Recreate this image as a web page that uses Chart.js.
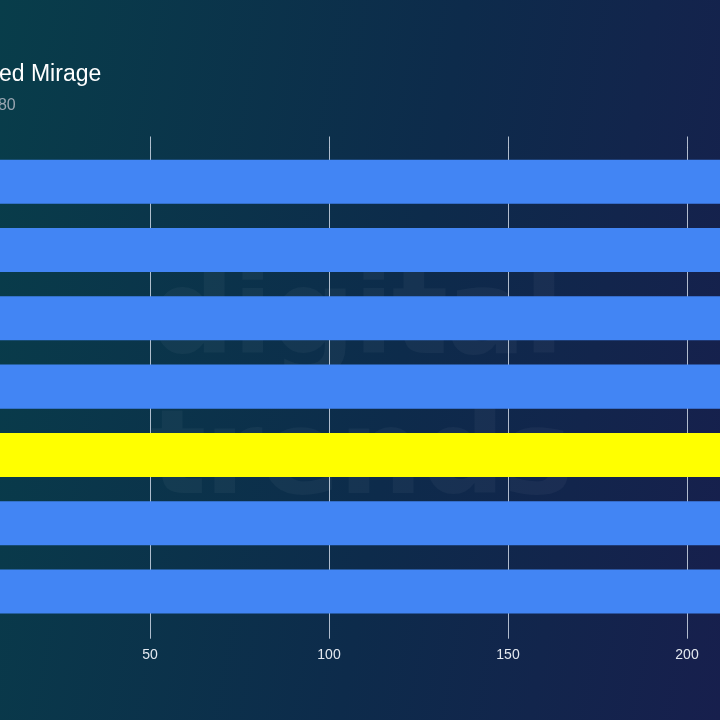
<!DOCTYPE html>
<html>
<head>
<meta charset="utf-8">
<script src="https://cdn.jsdelivr.net/npm/chart.js@4"></script>
<style>
	html, body { margin: 0; padding: 0; width: 720px; height: 720px; overflow: hidden; }
	body { position: relative; background: linear-gradient(100deg, #083d4a 0%, #0d2b4b 55%, #171f4d 100%); }
	#wm { position: absolute; left: 150px; top: 242px; font: bold 118px/140px "DejaVu Sans", sans-serif; color: rgba(255,255,255,0.04); letter-spacing: -2px; }
	#chart { position: absolute; left: -300px; top: 0; }
</style>
</head>
<body>
<div id="wm">digital<br>trends</div>
<canvas id="chart" width="1380" height="720"></canvas>
<script>
// 카드 이름 (화면 왼쪽 밖)
const labels = ['RTX 4090', 'RX 7900 XTX', 'RTX 4080', 'RX 7900 XT', 'RTX 4070 Ti', 'RX 7800 XT', 'RTX 4070'];
// 평균 FPS - 막대가 오른쪽 밖으로 나가서 추정값
const fps = [282, 266, 251, 240, 231, 222, 215];
const barColors = ['#4285f4', '#4285f4', '#4285f4', '#4285f4', '#ffff00', '#4285f4', '#4285f4'];
const xTicks = [0, 50, 100, 150, 200, 250, 300];

const gridColor = 'rgba(205,214,228,0.85)';

const ctx = document.getElementById('chart');
window.chart = new Chart(ctx, {
	type: 'bar',
	data: {
		labels: labels,
		datasets: [{
			data: fps,
			backgroundColor: barColors,
			borderWidth: 0,
			categoryPercentage: 1,
			barPercentage: 0.645
		}]
	},
	options: {
		indexAxis: 'y',
		responsive: false,
		animation: false,
		layout: { padding: { left: 147.6, right: 35, top: 0, bottom: 48.5 } },
		plugins: {
			legend: { display: false },
			tooltip: { enabled: false },
			title: {
				display: true,
				text: "Assassin's Creed Mirage",
				align: 'start',
				color: '#ffffff',
				font: { family: 'Liberation Sans', size: 23, weight: 'normal' },
				padding: { top: 60.8, bottom: 0 }
			},
			subtitle: {
				display: true,
				text: 'Ultra High, 1920 x 1080',
				align: 'start',
				color: '#9aa6b2',
				font: { family: 'Liberation Sans', size: 16 },
				padding: { top: 7.6, bottom: 21.3 }
			}
		},
		scales: {
			x: {
				type: 'linear',
				position: 'bottom',
				min: xTicks[0],
				max: xTicks[xTicks.length - 1],
				ticks: { stepSize: 50, color: '#e4e9f0', padding: 8, font: { family: 'Liberation Sans', size: 14 } },
				grid: { color: gridColor, lineWidth: 1, drawTicks: true, tickLength: 13 },
				border: { display: false }
			},
			x2: {
				type: 'linear',
				position: 'top',
				min: xTicks[0],
				max: xTicks[xTicks.length - 1],
				ticks: { stepSize: 50, display: false },
				grid: { color: gridColor, lineWidth: 1, drawOnChartArea: false, drawTicks: true, tickLength: 11 },
				border: { display: false }
			},
			y: {
				ticks: { color: '#ffffff', font: { family: 'Liberation Sans', size: 13 } },
				grid: { display: false },
				border: { display: false },
				afterFit: (scale) => { scale.width = 123.4; }
			}
		}
	}
});
</script>
</body>
</html>
